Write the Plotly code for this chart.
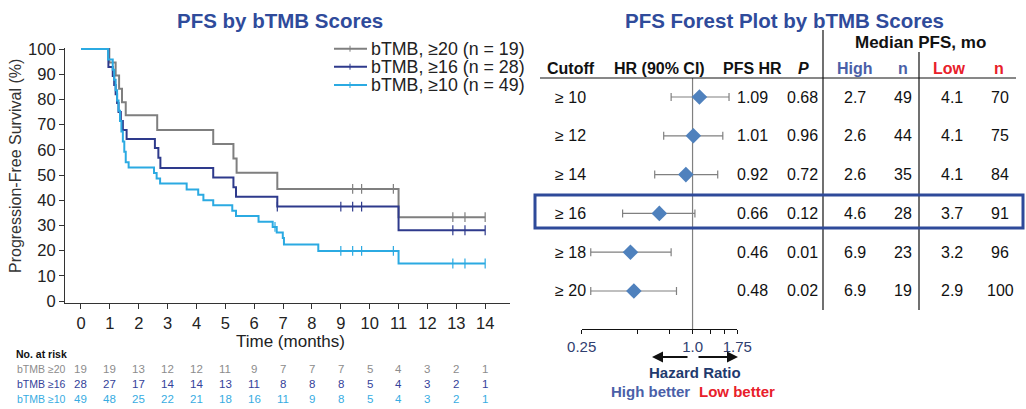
import numpy as np
import plotly.graph_objects as go

W, H = 1026, 409

def px(x):
    return x / W

def py(y):
    return 1 - y / H

# ---------------- KM data ----------------
months = list(range(0, 15))

t20 = [0, 0.98, 1.20, 1.32, 1.42, 1.55, 2.64, 4.58, 5.28, 5.39, 6.80, 11.0, 14.0]
s20 = [100, 94.7, 89.5, 84.2, 78.9, 73.7, 67.9, 62.3, 56.6, 50.9, 44.5, 33.3, 33.3]
c20 = [9.41, 9.72, 10.82, 12.88, 13.30, 14.0]

t16 = [0, 0.95, 1.10, 1.15, 1.20, 1.25, 1.30, 1.38, 1.45, 1.58, 2.56, 2.68, 2.75,
       4.58, 5.28, 5.37, 6.80, 11.0, 14.0]
s16 = [100, 92.9, 89.3, 85.7, 82.1, 78.6, 75.0, 71.4, 67.9, 64.3, 60.7, 56.9, 52.8,
       49.0, 45.2, 41.4, 37.5, 28.1, 28.1]
c16 = [6.80, 9.0, 9.41, 9.72, 12.88, 13.30, 14.0]

t10 = [0, 0.94, 1.10, 1.15, 1.20, 1.25, 1.30, 1.35, 1.40, 1.45, 1.50, 1.55, 1.65,
       2.53, 2.62, 2.74, 3.66, 4.06, 4.24, 4.58, 5.24, 5.37, 6.15, 6.64, 6.78,
       6.99, 7.03, 8.22, 11.0, 14.0]
s10 = [100, 95.9, 91.8, 87.8, 83.7, 79.6, 75.5, 71.4, 67.3, 63.3, 59.2, 55.1, 53.0,
       50.8, 48.6, 46.6, 44.3, 42.2, 40.0, 38.0, 35.8, 33.7, 31.5, 29.4, 27.2,
       25.0, 22.4, 19.9, 14.9, 14.9]
c10 = [6.72, 9.0, 9.41, 9.72, 10.82, 12.88, 13.30, 14.0]

risk20 = [19, 19, 13, 12, 12, 11, 9, 7, 7, 7, 5, 4, 3, 2, 1]
risk16 = [28, 27, 17, 14, 14, 13, 11, 8, 8, 8, 5, 4, 3, 2, 1]
risk10 = [49, 48, 25, 22, 21, 18, 16, 11, 9, 8, 5, 4, 3, 2, 1]

legend_labels = ["bTMB, \u226520 (n = 19)", "bTMB, \u226516 (n = 28)", "bTMB, \u226510 (n = 49)"]
risk_labels = ["bTMB \u226520", "bTMB \u226516", "bTMB \u226510"]

# ---------------- Forest data ----------------
cutoffs = ["\u2265 10", "\u2265 12", "\u2265 14", "\u2265 16", "\u2265 18", "\u2265 20"]
hr = [1.09, 1.01, 0.92, 0.66, 0.46, 0.48]
ci_lo = [0.765, 0.697, 0.623, 0.417, 0.28, 0.28]
ci_hi = [1.578, 1.46, 1.37, 1.03, 0.765, 0.818]
hr_txt = ["1.09", "1.01", "0.92", "0.66", "0.46", "0.48"]
p_txt = ["0.68", "0.96", "0.72", "0.12", "0.01", "0.02"]
high_med = ["2.7", "2.6", "2.6", "4.6", "6.9", "6.9"]
high_n = ["49", "44", "35", "28", "23", "19"]
low_med = ["4.1", "4.1", "4.1", "3.7", "3.2", "2.9"]
low_n = ["70", "75", "84", "91", "96", "100"]
hr_ticks = [0.25, 0.5, 0.75, 1.0, 1.25, 1.5, 1.75]
hr_ticktext = ["0.25", "", "", "1.0", "", "", "1.75"]

GRAY = "#7F7F7F"
DBLUE = "#2E3A8C"
LBLUE = "#2BAAE2"
TITLE_BLUE = "#2F4B9B"
HIGH_BLUE = "#4A5FA8"
LOW_RED = "#E8202A"
FONT = "Liberation Sans, Arial, sans-serif"

fig = go.Figure()

series = [(t20, s20, c20, GRAY), (t16, s16, c16, DBLUE), (t10, s10, c10, LBLUE)]
for t, s, c, col in series:
    fig.add_trace(go.Scatter(x=t, y=s, mode="lines", line=dict(color=col, width=2, shape="hv"),
                             showlegend=False, hoverinfo="skip", xaxis="x", yaxis="y"))
    ta = np.array(t)
    sa = np.array(s)
    idx = np.searchsorted(ta, np.array(c), side="right") - 1
    fig.add_trace(go.Scatter(x=c, y=sa[idx], mode="markers",
                             marker=dict(symbol="line-ns", size=7, line=dict(color=col, width=1.2)),
                             showlegend=False, hoverinfo="skip", xaxis="x", yaxis="y"))

# forest points
rows = list(range(len(cutoffs)))
fig.add_trace(go.Scatter(
    x=hr, y=rows, mode="markers",
    marker=dict(symbol="diamond", size=12, color="#4F81BD"),
    error_x=dict(type="data", symmetric=False,
                 array=[h - v for v, h in zip(hr, ci_hi)],
                 arrayminus=[v - l for v, l in zip(hr, ci_lo)],
                 color="#808080", thickness=1.2, width=4),
    showlegend=False, hoverinfo="skip", xaxis="x2", yaxis="y2"))

ann = []
shapes = []

def text(x, y, s, size=16, color="#111", bold=False, xanchor="center", italic=False,
         xref="paper", yref="paper", yanchor="middle"):
    if bold:
        s = "<b>" + s + "</b>"
    if italic:
        s = "<i>" + s + "</i>"
    ann.append(dict(x=x, y=y, xref=xref, yref=yref, text=s, showarrow=False,
                    xanchor=xanchor, yanchor=yanchor,
                    font=dict(family=FONT, size=size, color=color)))

# Left titles
text(px(280), py(20), "PFS by bTMB Scores", size=20.5, color=TITLE_BLUE, bold=True)
ann.append(dict(x=px(15), y=py(166), xref="paper", yref="paper", text="Progression-Free Survival (%)",
                showarrow=False, textangle=-90, xanchor="center", yanchor="middle",
                font=dict(family=FONT, size=16, color="#333")))
text(px(290), py(330), "Time (months)", size=17, color="#222", yanchor="top")

# legend
for i, (lab, col) in enumerate(zip(legend_labels, [GRAY, DBLUE, LBLUE])):
    yy = [48.7, 66.7, 85.0][i]
    shapes.append(dict(type="line", xref="paper", yref="paper", x0=px(334), x1=px(367),
                       y0=py(yy), y1=py(yy), line=dict(color=col, width=2)))
    shapes.append(dict(type="line", xref="paper", yref="paper", x0=px(350), x1=px(350),
                       y0=py(yy - 3), y1=py(yy + 3), line=dict(color=col, width=1)))
    text(px(369), py(yy), lab, size=17.8, color="#222", xanchor="left")

# at risk table
text(px(14), py(354), "No. at risk", size=10.5, color="#111", bold=True, xanchor="left")
for i, (lab, vals, col) in enumerate(zip(risk_labels, [risk20, risk16, risk10],
                                         ["#8C8C8C", "#34429A", "#37ACE2"])):
    yy = [369, 384, 399][i]
    text(px(15), py(yy), lab, size=10.5, color=col, xanchor="left")
    for m, v in zip(months, vals):
        text(m, py(yy), str(v), size=11.5, color=col, xref="x")

# Forest titles and headers
text(px(784), py(20), "PFS Forest Plot by bTMB Scores", size=20.5, color=TITLE_BLUE, bold=True)
text(px(920), py(42), "Median PFS, mo", size=17, color="#111", bold=True)
hy = py(68)
text(px(545), hy, "Cutoff", size=16, bold=True, xanchor="left")
text(px(659), hy, "HR (90% CI)", size=16, bold=True)
text(px(752), hy, "PFS HR", size=16, bold=True)
text(px(803), hy, "P", size=16, bold=True, italic=True)
text(px(855), hy, "High", size=16, bold=True, color=HIGH_BLUE)
text(px(903), hy, "n", size=16, bold=True, color=HIGH_BLUE)
text(px(949), hy, "Low", size=16, bold=True, color=LOW_RED)
text(px(999), hy, "n", size=16, bold=True, color=LOW_RED)

for r in rows:
    text(px(553), r, cutoffs[r], size=16, xanchor="left", yref="y2", color="#111")
    text(px(752), r, hr_txt[r], size=16, yref="y2")
    text(px(802), r, p_txt[r], size=16, yref="y2")
    text(px(855), r, high_med[r], size=16, yref="y2")
    text(px(903), r, high_n[r], size=16, yref="y2")
    text(px(952), r, low_med[r], size=16, yref="y2")
    text(px(1000), r, low_n[r], size=16, yref="y2")

# lines in forest table
shapes.append(dict(type="line", xref="paper", yref="paper", x0=px(540), x1=px(1016),
                   y0=py(78), y1=py(78), line=dict(color="#111", width=1)))
shapes.append(dict(type="line", xref="paper", yref="paper", x0=px(823), x1=px(823),
                   y0=py(30), y1=py(310), line=dict(color="#111", width=1.2)))
shapes.append(dict(type="line", xref="paper", yref="paper", x0=px(919), x1=px(919),
                   y0=py(52), y1=py(310), line=dict(color="#111", width=1.2)))
shapes.append(dict(type="line", xref="x2", yref="paper", x0=1.0, x1=1.0,
                   y0=py(78), y1=py(329), line=dict(color="#808080", width=1.2), layer="below"))
shapes.append(dict(type="rect", xref="paper", yref="paper", x0=px(535), x1=px(1023),
                   y0=py(195), y1=py(228), line=dict(color="#2E4A9A", width=3)))

# arrows
ann.append(dict(x=px(652), y=py(357), xref="paper", yref="paper", ax=37, ay=0, text="",
                showarrow=True, arrowhead=2, arrowsize=1.1, arrowwidth=2, arrowcolor="#111"))
ann.append(dict(x=px(738), y=py(357), xref="paper", yref="paper", ax=-41, ay=0, text="",
                showarrow=True, arrowhead=2, arrowsize=1.1, arrowwidth=2, arrowcolor="#111"))
text(px(695), py(372), "Hazard Ratio", size=15, bold=True, color="#1F3A6E")
text(px(692), py(391), "High better", size=15, bold=True, color=HIGH_BLUE, xanchor="right")
text(px(697), py(391), "Low better", size=15, bold=True, color=LOW_RED, xanchor="left")

fig.update_layout(
    template="none",
    width=W, height=H, margin=dict(l=0, r=0, t=0, b=0, pad=0, autoexpand=False),
    paper_bgcolor="white", plot_bgcolor="white",
    font=dict(family=FONT),
    xaxis=dict(domain=[px(65), px(510)], range=[-0.554, 14.86], tickvals=months,
               showline=True, linecolor="#333", linewidth=1.2, ticks="outside", ticklen=5,
               tickcolor="#333", showgrid=False, zeroline=False, automargin=False,
               tickfont=dict(family=FONT, size=16.5, color="#222"), anchor="y"),
    yaxis=dict(domain=[py(303.3), py(47.8)], range=[-0.9, 100.5], tickvals=list(range(0, 101, 10)),
               showline=True, linecolor="#333", linewidth=1.2, ticks="outside", ticklen=5,
               tickcolor="#333", showgrid=False, zeroline=False, automargin=False,
               tickfont=dict(family=FONT, size=16.5, color="#222"), anchor="x"),
    xaxis2=dict(domain=[px(581.7), px(737.3)], type="log",
                range=[np.log10(0.25), np.log10(1.75)], tickvals=hr_ticks, ticktext=hr_ticktext,
                showline=True, linecolor="#111", linewidth=1.2, ticks="outside", ticklen=4,
                tickcolor="#111", showgrid=False, zeroline=False, automargin=False,
                tickfont=dict(family=FONT, size=15, color="#2F4070"), anchor="y2"),
    yaxis2=dict(domain=[py(329), py(78)], range=[5.98, -0.49], visible=False, anchor="x2",
                automargin=False),
    annotations=ann, shapes=shapes,
)

fig.write_html("out.html", config={"displayModeBar": False},
               post_script="document.body.style.margin='0';document.body.style.padding='0';"
                           "document.documentElement.style.overflow='hidden';")
